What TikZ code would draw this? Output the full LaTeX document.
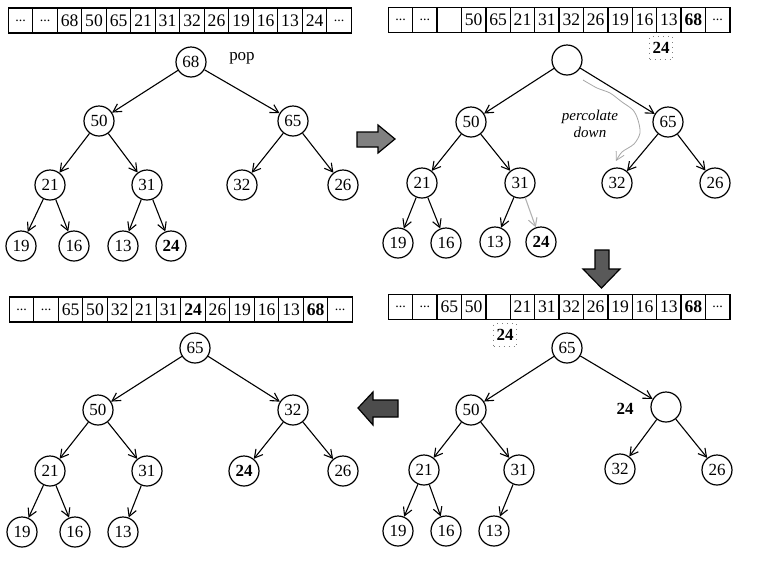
\documentclass[tikz,border=0pt]{standalone}
\usepackage{fontspec}
\setmainfont{Liberation Serif}
\usetikzlibrary{arrows.meta}
\newcommand{\dd}{{\fontsize{7}{8}\selectfont...}}
\begin{document}
\begin{tikzpicture}[x=0.5pt,y=-0.5pt,
 nd/.style={circle,draw,line width=0.6pt,minimum size=15pt,inner sep=0pt,font=\fontsize{8.5}{10}\selectfont},
 cell/.style={draw,line width=0.6pt,minimum width=12.25pt,minimum height=12.5pt,inner sep=0pt,font=\fontsize{8.8}{10}\selectfont},
 ed/.style={line width=0.55pt,-{Straight Barb[length=4pt,width=4.5pt]}},
 tmp/.style={draw=gray,dotted,line width=0.5pt,minimum size=11.5pt,inner sep=0pt,font=\bfseries\fontsize{8.5}{10}\selectfont},
 blk/.style={draw=black,line width=0.6pt},
 lbl/.style={font=\fontsize{8.5}{10}\selectfont}
]
\useasboundingbox (0,0) rectangle (757,574);

% arrays
\foreach \t [count=\i] in {\dd,\dd,68,50,65,21,31,32,26,19,16,13,24,\dd}
  \node[cell] (pa\i) at ({8.3+24.5*(\i-0.5)},20.5) {\t};
\foreach \t [count=\i] in {\dd,\dd,{},50,65,21,31,32,26,19,16,13,{\textbf{68}},\dd}
  \node[cell] (pb\i) at ({388.3+24.4*(\i-0.5)},20) {\t};
\foreach \t [count=\i] in {\dd,\dd,65,50,32,21,31,{\textbf{24}},26,19,16,13,{\textbf{68}},\dd}
  \node[cell] (pc\i) at ({9.3+24.5*(\i-0.5)},309.5) {\t};
\foreach \t [count=\i] in {\dd,\dd,65,50,{},21,31,32,26,19,16,13,{\textbf{68}},\dd}
  \node[cell] (pd\i) at ({388.3+24.4*(\i-0.5)},307) {\t};

\node[tmp] (tb) at (661,48) {24};
\node[tmp] (td) at (505,335) {24};

% tree TL
\node[nd] (a1) at (191,62) {68};
\node[lbl] (pop) at (242,58) {pop};
\node[nd] (a2) at (99,121) {50};
\node[nd] (a3) at (293,121) {65};
\node[nd] (a4) at (50,185) {21};
\node[nd] (a5) at (147,185) {31};
\node[nd] (a6) at (242,185) {32};
\node[nd] (a7) at (343,185) {26};
\node[nd] (a8) at (21,246) {19};
\node[nd] (a9) at (74,246) {16};
\node[nd] (a10) at (123,246) {13};
\node[nd] (a11) at (171,246) {\textbf{24}};
\foreach \p/\c in {1/2,1/3,2/4,2/5,3/6,3/7,4/8,4/9,5/10,5/11}
  \draw[ed] (a\p) -- (a\c);

% tree TR
\node[nd] (b1) at (567,60) {};
\node[nd] (b2) at (471,122) {50};
\node[nd] (b3) at (668,122) {65};
\node[nd] (b4) at (422,183) {21};
\node[nd] (b5) at (520,183) {31};
\node[nd] (b6) at (617,183) {32};
\node[nd] (b7) at (715,183) {26};
\node[nd] (b8) at (398,243) {19};
\node[nd] (b9) at (446,243) {16};
\node[nd] (b10) at (495,242) {13};
\node[nd] (b11) at (541,242) {\textbf{24}};
\foreach \p/\c in {1/2,1/3,2/4,2/5,3/6,3/7,4/8,4/9,5/10}
  \draw[ed] (b\p) -- (b\c);
\draw[ed,gray!60] (b5) -- (b11);
\node[font=\itshape\fontsize{7.5}{8.5}\selectfont,align=center] (perc) at (590,124) {percolate\\down};
\draw[gray!70,line width=0.4pt,-{Straight Barb[length=4pt,width=4.5pt]}]
  plot[smooth] coordinates {(583,80) (597,88) (610,93) (622,102) (633,110) (638,120) (640,133) (634,144) (622,152) (616,161)};

% tree BL
\node[nd] (c1) at (195,348) {65};
\node[nd] (c2) at (98,410) {50};
\node[nd] (c3) at (293,410) {32};
\node[nd] (c4) at (50,471) {21};
\node[nd] (c5) at (147,471) {31};
\node[nd] (c6) at (244,471) {\textbf{24}};
\node[nd] (c7) at (343,471) {26};
\node[nd] (c8) at (22,532) {19};
\node[nd] (c9) at (75,532) {16};
\node[nd] (c10) at (123,532) {13};
\foreach \p/\c in {1/2,1/3,2/4,2/5,3/6,3/7,4/8,4/9,5/10}
  \draw[ed] (c\p) -- (c\c);

% tree BR
\node[nd] (d1) at (567,348) {65};
\node[nd] (d2) at (471,410) {50};
\node[nd] (d3) at (666,407) {};
\node[lbl,font=\bfseries\fontsize{8.5}{10}\selectfont] (d24) at (625,409) {24};
\node[nd] (d4) at (424,470) {21};
\node[nd] (d5) at (519,470) {31};
\node[nd] (d6) at (620,469) {32};
\node[nd] (d7) at (717,470) {26};
\node[nd] (d8) at (398,531) {19};
\node[nd] (d9) at (446,531) {16};
\node[nd] (d10) at (494,531) {13};
\foreach \p/\c in {1/2,1/3,2/4,2/5,3/6,3/7,4/8,4/9,5/10}
  \draw[ed] (d\p) -- (d\c);

% block arrows
\filldraw[blk,fill=black!50] (357,132) -- (378,132) -- (378,125) -- (395,139) -- (378,153) -- (378,147) -- (357,147) -- cycle;
\filldraw[blk,fill=black!65] (595,250) -- (609,250) -- (609,269) -- (620,269) -- (601.5,288) -- (583,269) -- (595,269) -- cycle;
\filldraw[blk,fill=black!70] (358,408) -- (373,392) -- (373,400) -- (398,400) -- (398,417) -- (373,417) -- (373,425) -- cycle;
\end{tikzpicture}
\end{document}
